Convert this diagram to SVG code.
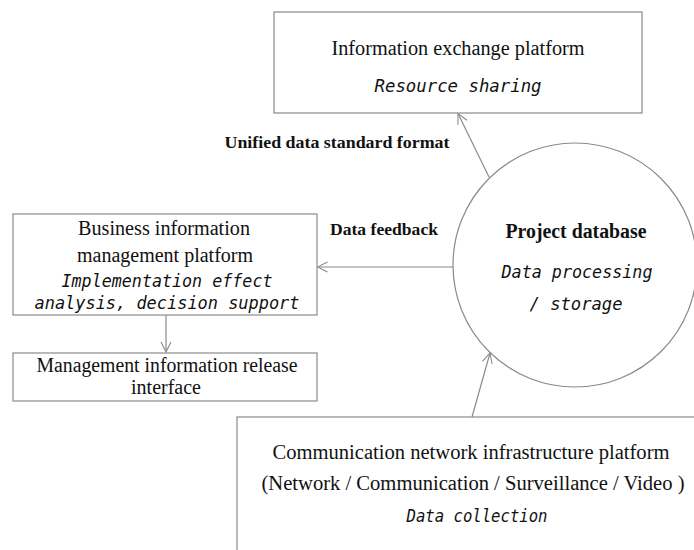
<svg xmlns="http://www.w3.org/2000/svg" width="694" height="550" viewBox="0 0 694 550">
<style>
.box{fill:#fff;stroke:#8a8a8a;stroke-width:1.2}
.ser{font-family:"Liberation Serif","Times New Roman",serif;font-size:20px;fill:#111;text-anchor:middle}
.bold{font-family:"Liberation Serif","Times New Roman",serif;font-weight:bold;fill:#111;text-anchor:middle}
.mono{font-family:"DejaVu Sans Mono","Liberation Mono",monospace;font-style:italic;font-size:18px;fill:#111;text-anchor:middle}
.conn{stroke:#8a8a8a;stroke-width:1.2;fill:none;marker-end:url(#arr)}
</style>
<defs>
<marker id="arr" viewBox="0 0 12 12" refX="11" refY="6" markerWidth="12" markerHeight="12" markerUnits="userSpaceOnUse" orient="auto">
<path d="M1,1 L11,6 L1,11" fill="none" stroke="#8a8a8a" stroke-width="1.1"/>
</marker>
</defs>
<rect width="694" height="550" fill="#fff"/>
<g id="connectors">
<line class="conn" x1="489" y1="177" x2="458" y2="113.5"/>
<line class="conn" x1="453" y1="267" x2="317.5" y2="267"/>
<line class="conn" x1="166" y1="315" x2="166" y2="352"/>
<line class="conn" x1="472" y1="417" x2="490" y2="353"/>
<text class="bold" x="337" y="148" font-size="16" textLength="225" lengthAdjust="spacingAndGlyphs">Unified data standard format</text>
<text class="bold" x="384" y="235" font-size="16" textLength="108" lengthAdjust="spacingAndGlyphs">Data feedback</text>
</g>
<g id="info-exchange">
<rect class="box" x="274" y="12" width="368" height="101"/>
<text class="ser" x="458" y="55" textLength="253" lengthAdjust="spacingAndGlyphs">Information exchange platform</text>
<text class="mono" x="458" y="92" textLength="167" lengthAdjust="spacingAndGlyphs">Resource sharing</text>
</g>
<g id="project-database">
<circle cx="575" cy="265" r="122" fill="#fff" stroke="#8a8a8a" stroke-width="1.2"/>
<text class="bold" x="576" y="238" font-size="20" textLength="141" lengthAdjust="spacingAndGlyphs">Project database</text>
<text class="mono" x="577" y="278" textLength="151" lengthAdjust="spacingAndGlyphs">Data processing</text>
<text class="mono" x="576" y="310" textLength="93" lengthAdjust="spacingAndGlyphs">/ storage</text>
</g>
<g id="business-platform">
<rect class="box" x="13" y="214" width="304" height="101"/>
<text class="ser" x="164" y="235" textLength="172" lengthAdjust="spacingAndGlyphs">Business information</text>
<text class="ser" x="165" y="262">management platform</text>
<text class="mono" x="167" y="287" textLength="211" lengthAdjust="spacingAndGlyphs">Implementation effect</text>
<text class="mono" x="167" y="309" textLength="265" lengthAdjust="spacingAndGlyphs">analysis, decision support</text>
</g>
<g id="release-interface">
<rect class="box" x="13" y="353" width="304" height="48"/>
<text class="ser" x="167" y="372" textLength="261" lengthAdjust="spacingAndGlyphs">Management information release</text>
<text class="ser" x="166" y="394">interface</text>
</g>
<g id="communication-platform">
<rect class="box" x="237" y="417" width="470" height="150"/>
<text class="ser" x="471" y="459" textLength="397" lengthAdjust="spacingAndGlyphs">Communication network infrastructure platform</text>
<text class="ser" x="473" y="490" textLength="423" lengthAdjust="spacingAndGlyphs">(Network / Communication / Surveillance / Video )</text>
<text class="mono" x="477" y="522" textLength="141" lengthAdjust="spacingAndGlyphs">Data collection</text>
</g>
</svg>
